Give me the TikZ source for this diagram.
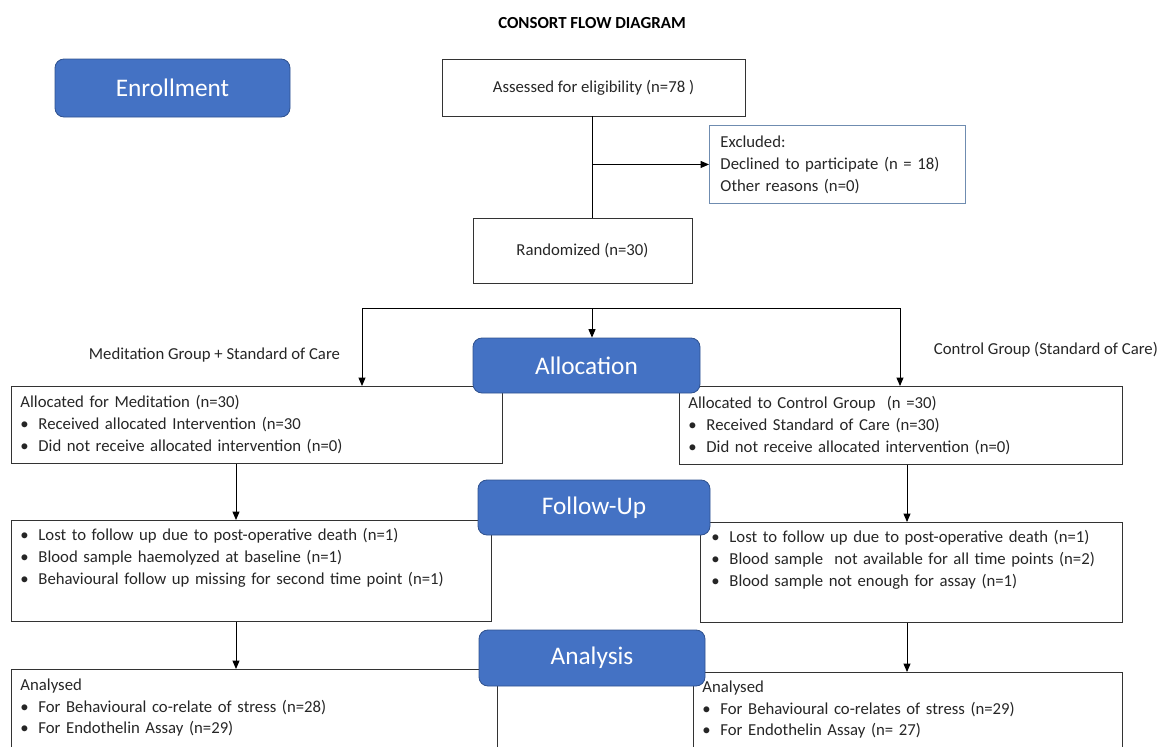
\documentclass[tikz,border=0pt]{standalone}
\usepackage{fontspec}
\setmainfont{Carlito}
\usetikzlibrary{arrows.meta}

\newlength\pxu
\setlength\pxu{0.025cm}
\definecolor{phaseblue}{HTML}{4472C4}
\definecolor{phaseedge}{HTML}{2F528F}
\definecolor{exclgray}{HTML}{6F8CB0}
\newcommand{\itm}{\makebox[18\pxu][l]{\textbullet}}

\begin{document}
\begin{tikzpicture}[x=0.025cm, y=-0.025cm,
    body/.style={font=\fontsize{11.9}{15.6}\selectfont, text=black!85},
    lbox/.style={body, draw=black!80, line width=0.65pt, anchor=north west, align=left, inner xsep=9\pxu, inner ysep=0pt},
    cbox/.style={body, draw=black!80, line width=0.65pt, inner sep=0pt},
    phase/.style={fill=phaseblue, draw=phaseedge, line width=0.6pt, rounded corners=9\pxu, text=white, font=\fontsize{18}{22}\selectfont, inner sep=0pt},
    arr/.style={-{Triangle[length=6pt,width=5pt]}, line width=0.65pt}]

    \useasboundingbox (0,0) rectangle (1159,746);
    \clip (0,0) rectangle (1159,746);

    \node[font=\fontsize{12}{14}\selectfont\bfseries] (title) at (592,23) {CONSORT FLOW DIAGRAM};

    \node[cbox, minimum width=303\pxu, minimum height=57\pxu] (assess) at (593.5,87.5) {Assessed for eligibility (n=78 )};
    \node[lbox, draw=exclgray, inner xsep=11\pxu, text width=234\pxu, minimum height=78\pxu] (excl) at (709,125)
        {Excluded:\\Declined to participate (n = 18)\\Other reasons (n=0)};
    \node[cbox, minimum width=219\pxu, minimum height=65\pxu] (rand) at (582.5,250.5) {Randomized (n=30)};

    \node[body, anchor=east] (medlbl) at (345,355) {Meditation Group + Standard of Care};
    \node[body, anchor=west] (ctrllbl) at (929,350) {Control Group (Standard of Care)};

    \node[lbox, text width=473\pxu, minimum height=77\pxu] (medbox) at (11,386)
        {Allocated for Meditation (n=30)\\\itm Received allocated Intervention (n=30\\\itm Did not receive allocated intervention (n=0)};
    \node[lbox, text width=425\pxu, minimum height=78\pxu] (ctrlbox) at (679,386)
        {Allocated to Control Group\ \ (n =30)\\\itm Received Standard of Care (n=30)\\\itm Did not receive allocated intervention (n=0)};

    \node[lbox, text width=462\pxu, minimum height=101\pxu] (medfu) at (11,520)
        {\itm Lost to follow up due to post-operative death (n=1)\\\itm Blood sample haemolyzed at baseline (n=1)\\\itm Behavioural follow up missing for second time point (n=1)\\\strut};
    \node[lbox, inner xsep=11\pxu, text width=400\pxu, minimum height=100\pxu] (ctrlfu) at (700,522)
        {\itm Lost to follow up due to post-operative death (n=1)\\\itm Blood sample\ \ not available for all time points (n=2)\\\itm Blood sample not enough for assay (n=1)\\\strut};

    \node[lbox, text width=468\pxu, minimum height=124\pxu] (medan) at (11,669)
        {Analysed\\\itm For Behavioural co-relate of stress (n=28)\\\itm For Endothelin Assay (n=29)\\\strut\\\strut};
    \node[lbox, text width=411\pxu, minimum height=122\pxu] (ctrlan) at (693,672)
        {Analysed\\\itm For Behavioural co-relates of stress (n=29)\\\itm For Endothelin Assay (n= 27)\\\strut\\\strut};

    \node[phase, minimum width=235\pxu, minimum height=58\pxu] (enroll) at (172.5,88) {Enrollment};
    \node[phase, minimum width=227\pxu, minimum height=55\pxu] (alloc) at (586.5,365.5) {Allocation};
    \node[phase, minimum width=232\pxu, minimum height=55\pxu] (follow) at (594,507.5) {Follow-Up};
    \node[phase, minimum width=226\pxu, minimum height=56\pxu] (analysis) at (592,658) {Analysis};

    \coordinate (sl) at (362,308);
    \coordinate (sm) at (592,308);
    \coordinate (sr) at (900,308);
    \coordinate (medx) at (236,0);
    \coordinate (ctrlx) at (907,0);

    \draw[line width=0.65pt] (assess.south -| sm) -- (rand.north -| sm);
    \draw[arr] (excl.west -| sm) -- (excl.west);
    \draw[line width=0.65pt] (sl) -- (sr);
    \draw[arr] (sm) -- (alloc.north -| sm);
    \draw[arr] (sl) -- (medbox.north -| sl);
    \draw[arr] (sr) -- (ctrlbox.north -| sr);
    \draw[arr] (medbox.south -| medx) -- (medfu.north -| medx);
    \draw[arr] (medfu.south -| medx) -- (medan.north -| medx);
    \draw[arr] (ctrlbox.south -| ctrlx) -- (ctrlfu.north -| ctrlx);
    \draw[arr] (ctrlfu.south -| ctrlx) -- (ctrlan.north -| ctrlx);
\end{tikzpicture}
\end{document}
